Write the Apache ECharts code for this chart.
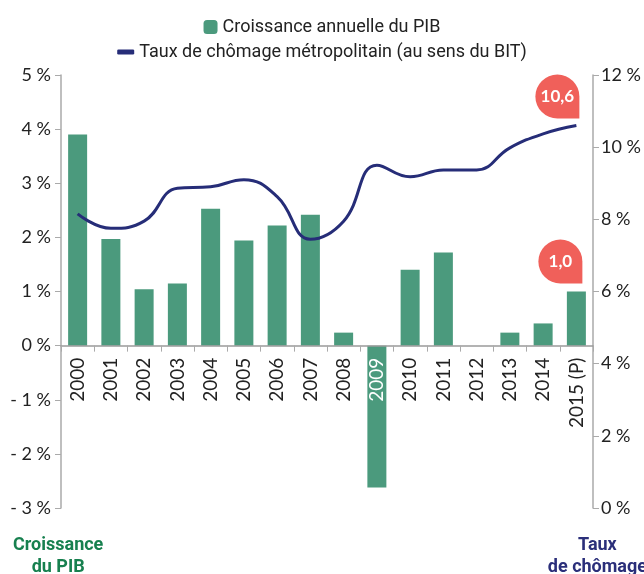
<!DOCTYPE html>
<html>
<head>
<meta charset="utf-8">
<script src="https://cdn.jsdelivr.net/npm/echarts@6/dist/echarts.min.js"></script>
<style>
  html, body { margin: 0; padding: 0; background: #fff; }
  #main { width: 644px; height: 574px; }
</style>
</head>
<body>
<div id="main"></div>
<script>
// années (2015 = prévision)
const annees = ['2000', '2001', '2002', '2003', '2004', '2005', '2006', '2007',
  '2008', '2009', '2010', '2011', '2012', '2013', '2014', '2015 (P)'];
// croissance annuelle du PIB, en %
const croissancePib = [3.9, 1.97, 1.04, 1.15, 2.53, 1.94, 2.22, 2.42,
  0.24, -2.62, 1.4, 1.72, 0, 0.24, 0.41, 1.0];
// taux de chômage métropolitain (BIT), en %
const tauxChomage = [8.15, 7.75, 7.95, 8.86, 8.9, 9.1, 8.63, 7.45,
  7.95, 9.5, 9.18, 9.37, 9.37, 9.98, 10.37, 10.6];
// bornes des axes
const pibMin = -3, pibMax = 5;

const nomPib = 'Croissance annuelle du PIB';
const nomChomage = 'Taux de chômage métropolitain (au sens du BIT)';

const vert = '#4b9a7d';
const bleu = '#262d78';
const rouge = '#f0605a';
const police = 'Lato, "Open Sans", sans-serif';
const policeLegende = 'Roboto, "Noto Sans", sans-serif';

// bulle : cercle avec le coin bas-droit en pointe
const bulle = 'path://M0,22 A22,22 0 1 1 44,22 L44,44 L22,44 A22,22 0 0 1 0,22 Z';

const grille = { left: 61, right: 51, top: 75, bottom: 66 };
const hauteurGrille = 574 - grille.top - grille.bottom;
// les étiquettes des années sont posées sous la ligne du zéro
const decalageZero = hauteurGrille * (0 - pibMin) / (pibMax - pibMin);

const myChart = echarts.init(document.getElementById('main'));

const option = {
  animation: false,
  legend: [
    {
      top: 13,
      left: 'center',
      itemWidth: 14,
      itemHeight: 14,
      itemGap: 0,
      textStyle: { fontFamily: policeLegende, fontSize: 18, color: '#222' },
      data: [{ name: nomPib, icon: 'roundRect' }]
    },
    {
      top: 38,
      left: 'center',
      itemWidth: 17,
      itemHeight: 5,
      textStyle: { fontFamily: policeLegende, fontSize: 18, color: '#222' },
      data: [{ name: nomChomage, icon: 'roundRect' }]
    }
  ],
  grid: Object.assign({ containLabel: false, outerBoundsMode: 'none' }, grille),
  xAxis: [{
    type: 'category',
    z: 10,
    data: annees.map(a => a === '2009' ? { value: a, textStyle: { color: '#fff' } } : a),
    axisLine: { onZero: true, lineStyle: { color: '#9a9a9a', width: 1.5 } },
    axisTick: { show: true, length: 6, lineStyle: { color: '#aaa' } },
    axisLabel: {
      rotate: 90,
      margin: 12 - decalageZero,
      fontFamily: police,
      fontSize: 19,
      color: '#222'
    }
  }],
  yAxis: [
    {
      type: 'value',
      min: pibMin,
      max: pibMax,
      interval: 1,
      splitLine: { show: false },
      axisLine: { show: true, lineStyle: { color: '#aaa', width: 1.5 } },
      axisTick: { show: true, length: 6, lineStyle: { color: '#aaa' } },
      axisLabel: {
        fontFamily: police,
        fontSize: 18,
        color: '#222',
        margin: 10,
        formatter: v => v < 0 ? '- ' + Math.abs(v) + ' %' : v + ' %'
      }
    },
    {
      type: 'value',
      min: 0,
      max: 12,
      interval: 2,
      splitLine: { show: false },
      axisLine: { show: true, lineStyle: { color: '#aaa', width: 1.5 } },
      axisTick: { show: true, length: 6, lineStyle: { color: '#aaa' } },
      axisLabel: {
        fontFamily: police,
        fontSize: 18,
        color: '#222',
        margin: 8,
        formatter: v => v + ' %'
      }
    }
  ],
  series: [
    {
      name: nomPib,
      type: 'bar',
      yAxisIndex: 0,
      barWidth: 19,
      itemStyle: { color: vert },
      data: croissancePib,
      markPoint: {
        symbol: bulle,
        symbolSize: [44, 44],
        symbolOffset: [-16, -30],
        itemStyle: { color: rouge },
        label: { color: '#fff', fontFamily: police, fontWeight: 'bold', fontSize: 17, formatter: '1,0' },
        data: [{ coord: [annees.length - 1, croissancePib[croissancePib.length - 1]] }]
      }
    },
    {
      name: nomChomage,
      type: 'line',
      yAxisIndex: 1,
      smooth: 0.45,
      symbol: 'none',
      lineStyle: { color: bleu, width: 3 },
      itemStyle: { color: bleu },
      z: 5,
      data: tauxChomage,
      markPoint: {
        symbol: bulle,
        symbolSize: [44, 44],
        symbolOffset: [-19, -29],
        itemStyle: { color: rouge },
        label: { color: '#fff', fontFamily: police, fontWeight: 'bold', fontSize: 17, formatter: '10,6' },
        data: [{ coord: [annees.length - 1, tauxChomage[tauxChomage.length - 1]] }]
      }
    }
  ],
  graphic: [
    {
      type: 'text',
      left: 13,
      top: 534,
      style: {
        text: 'Croissance\ndu PIB',
        fill: '#17804f',
        font: 'bold 18px ' + policeLegende,
        textAlign: 'center',
        lineHeight: 22
      }
    },
    {
      type: 'text',
      right: -3,
      top: 534,
      style: {
        text: 'Taux\nde chômage',
        fill: '#2b2f7a',
        font: 'bold 18px ' + policeLegende,
        textAlign: 'center',
        lineHeight: 22
      }
    }
  ]
};

myChart.setOption(option);
</script>
</body>
</html>
